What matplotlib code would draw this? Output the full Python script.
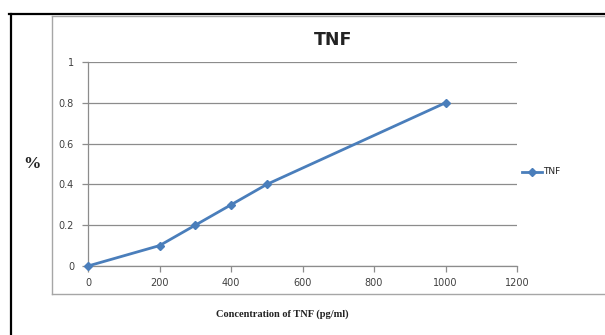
import matplotlib
matplotlib.use("Agg")
import matplotlib.pyplot as plt
from matplotlib.lines import Line2D

# TNF standard curve
concentration = [0, 200, 300, 400, 500, 1000]
percent = [0, 0.1, 0.2, 0.3, 0.4, 0.8]
x_ticks = [0, 200, 400, 600, 800, 1000, 1200]
y_ticks = [0, 0.2, 0.4, 0.6, 0.8, 1]
y_tick_labels = ["0", "0.2", "0.4", "0.6", "0.8", "1"]

W, H = 605, 335
fig = plt.figure(figsize=(W / 100, H / 100), dpi=100)
fig.patch.set_facecolor("white")

def fx(px):
    return px / W

def fy(py):
    return 1 - py / H

# outer black frame (top and left)
fig.add_artist(Line2D([fx(9), fx(605)], [fy(14), fy(14)], color="black", lw=1.6))
fig.add_artist(Line2D([fx(10.5), fx(10.5)], [fy(14), fy(335)], color="black", lw=1.6))
# inner gray chart-area border
gray_border = "#a6a6a6"
fig.add_artist(Line2D([fx(52), fx(605)], [fy(16), fy(16)], color=gray_border, lw=1.0))
fig.add_artist(Line2D([fx(52), fx(52)], [fy(16), fy(294)], color=gray_border, lw=1.0))
fig.add_artist(Line2D([fx(52), fx(605)], [fy(294), fy(294)], color=gray_border, lw=1.0))

ax = fig.add_axes([fx(88), fy(266), fx(517) - fx(88), fy(62) - fy(266)])
line_color = "#4a7ebb"
ax.plot(concentration, percent, color=line_color, lw=2.0, marker="D",
        markersize=4.5, markerfacecolor=line_color, markeredgecolor=line_color,
        clip_on=False, zorder=3, label="TNF")

ax.set_xlim(0, 1200)
ax.set_ylim(0, 1)
ax.set_xticks(x_ticks)
ax.set_xticklabels([str(v) for v in x_ticks])
ax.set_yticks(y_ticks)
ax.set_yticklabels(y_tick_labels)

axis_gray = "#8c8c8c"
for side in ("top", "right"):
    ax.spines[side].set_visible(False)
for side in ("left", "bottom"):
    ax.spines[side].set_color(axis_gray)
    ax.spines[side].set_linewidth(0.9)
ax.grid(axis="y", color=axis_gray, lw=0.9)
ax.set_axisbelow(True)
ax.tick_params(axis="both", direction="out", length=4, width=0.9,
               color=axis_gray, labelsize=7, labelcolor="#404040")
ax.tick_params(axis="x", pad=5)
ax.tick_params(axis="y", pad=6)

# title, axis captions
fig.text(fx(333), fy(40), "TNF", ha="center", va="center",
         fontsize=12.5, fontweight="bold", family="DejaVu Sans", color="#222222")
fig.text(fx(32), fy(164), "%", ha="center", va="center",
         fontsize=12.5, fontweight="bold", family="Liberation Serif", color="#222222")
fig.text(fx(282), fy(314), "Concentration of TNF (pg/ml)", ha="center", va="center",
         fontsize=7.5, fontweight="bold", family="Liberation Serif", color="#222222")

# legend
fig.add_artist(Line2D([fx(522), fx(542)], [fy(172), fy(172)], color=line_color, lw=2.0))
fig.add_artist(Line2D([fx(532)], [fy(172)], color=line_color, marker="D",
                      markersize=4.5, markerfacecolor=line_color, markeredgecolor=line_color))
fig.text(fx(543), fy(172), "TNF", ha="left", va="center", fontsize=6.5, color="#222222")

fig.savefig("out.png", dpi=100, facecolor="white")
